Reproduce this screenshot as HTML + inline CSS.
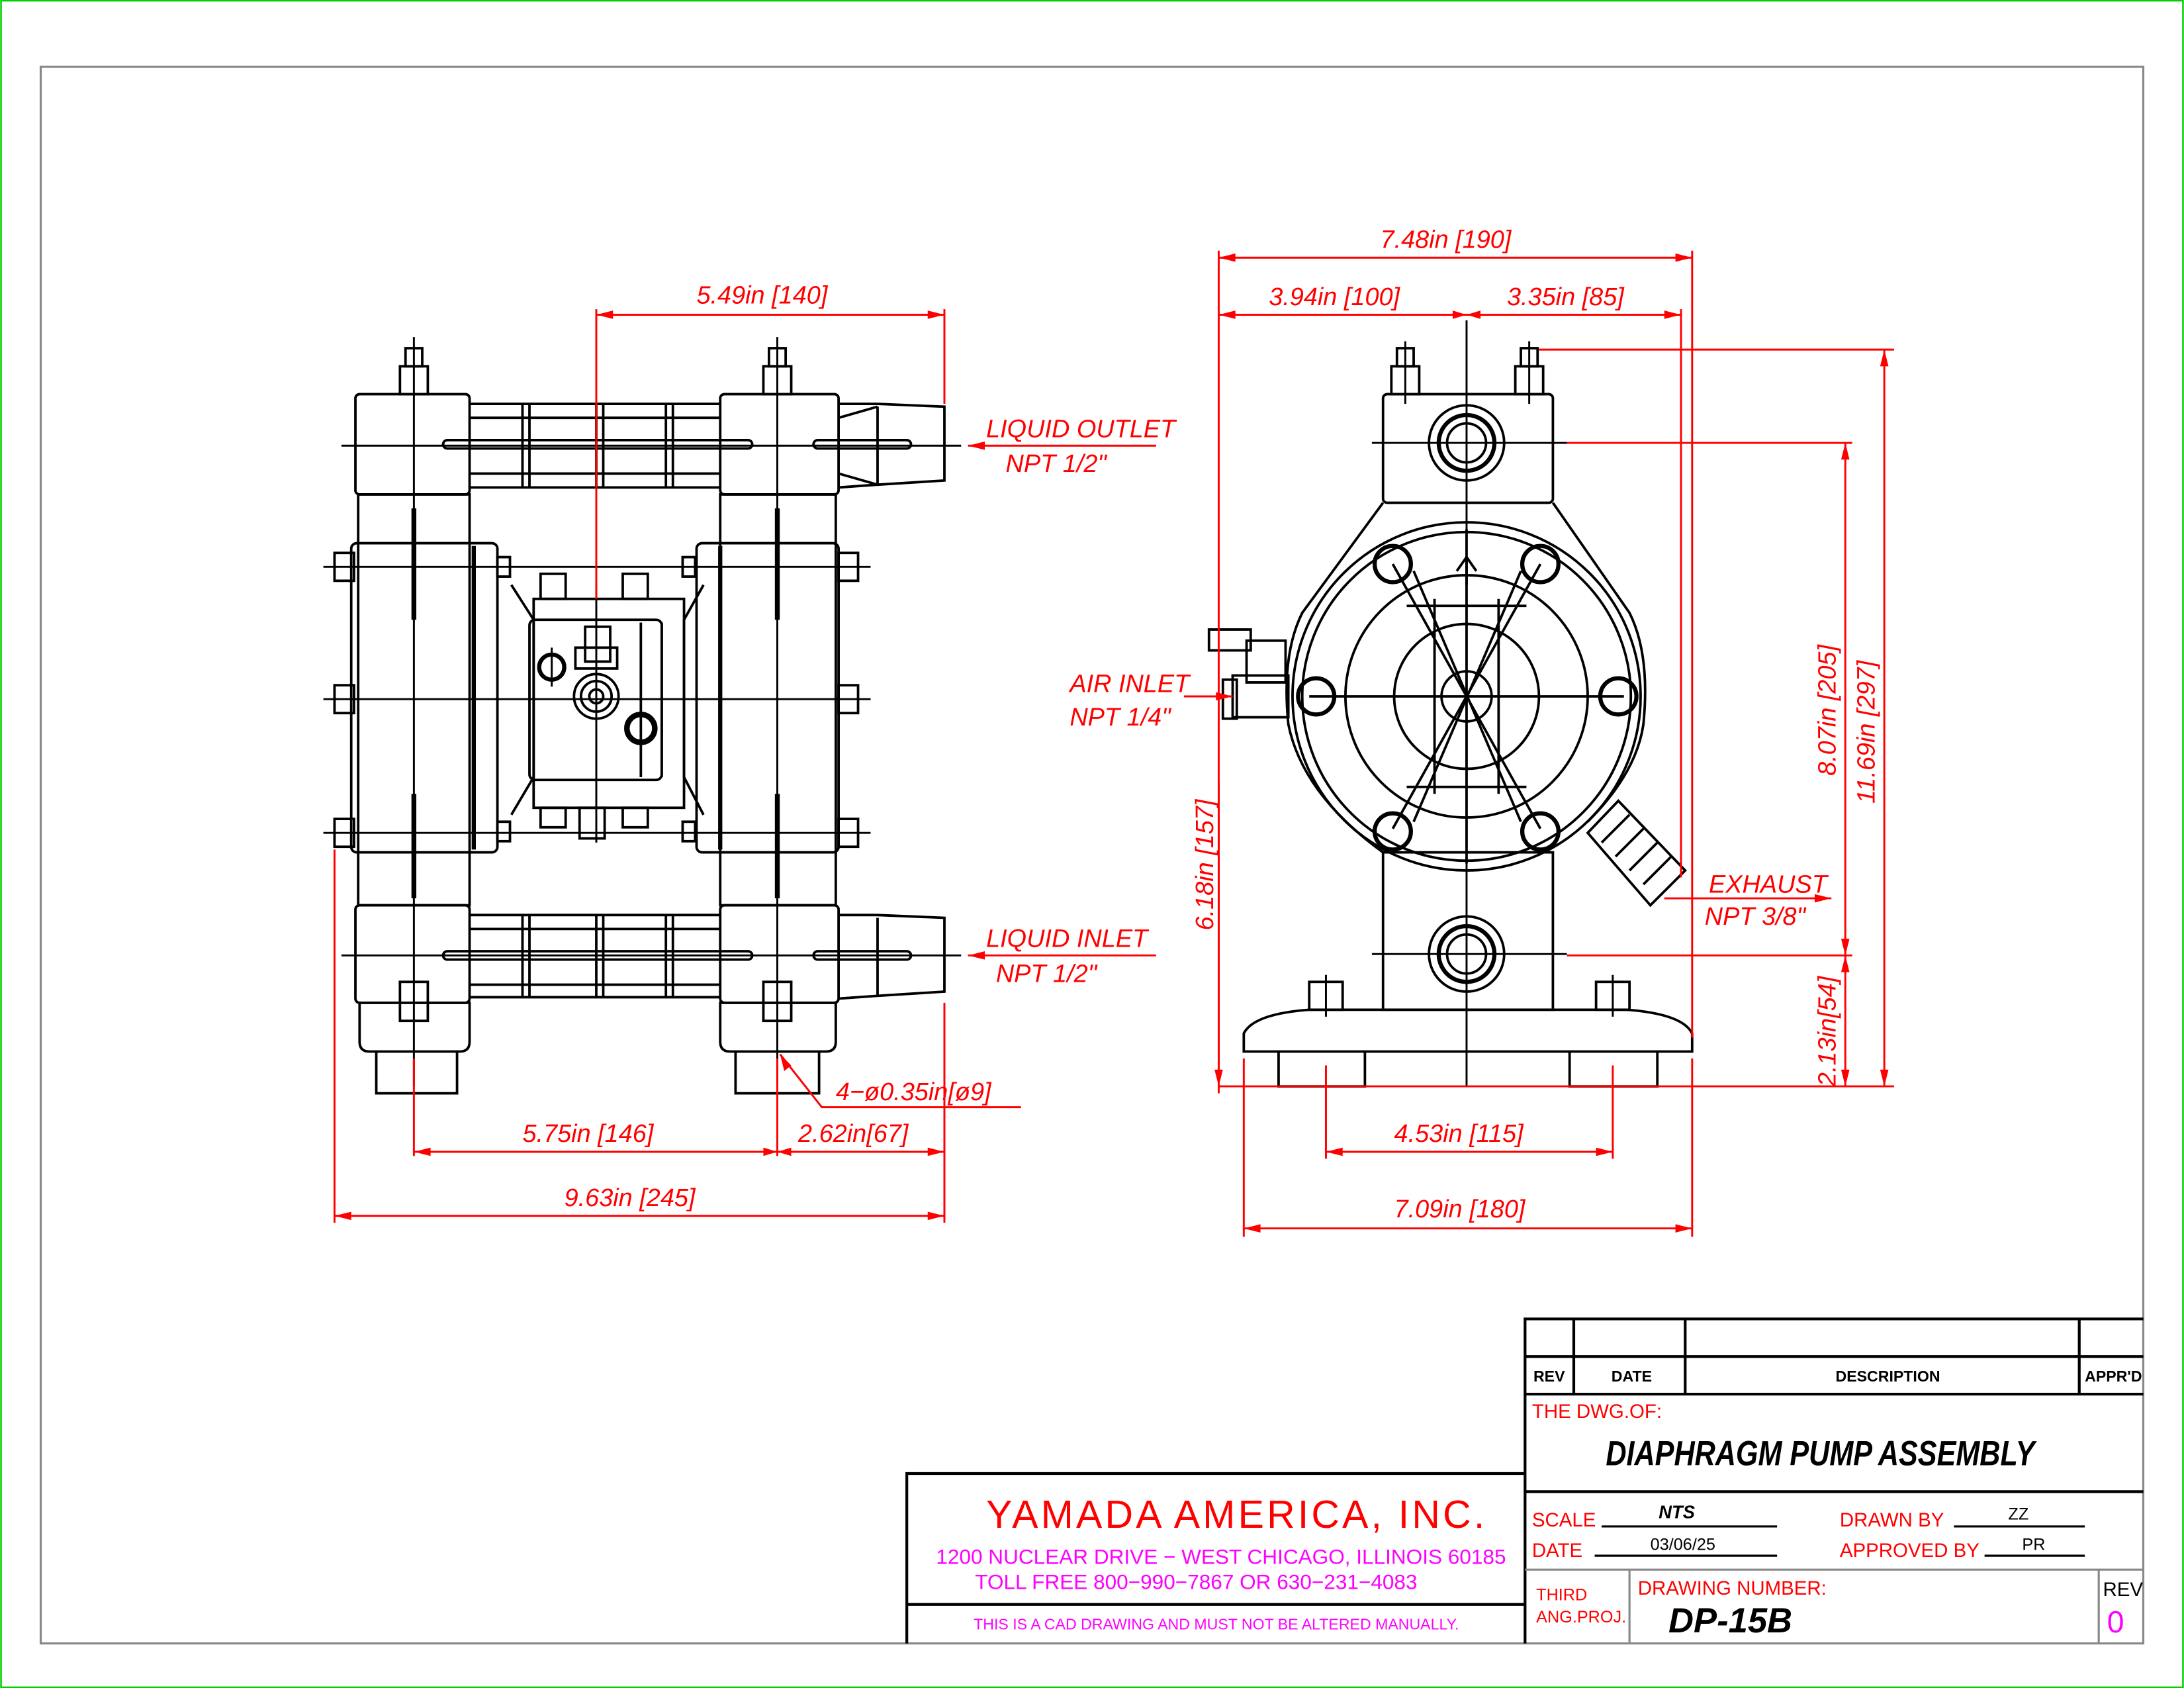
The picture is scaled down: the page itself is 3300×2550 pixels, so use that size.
<!DOCTYPE html>
<html><head><meta charset="utf-8"><style>
html,body{margin:0;padding:0;background:#fff}
svg{display:block}
text{font-family:"Liberation Sans",sans-serif}
.r{fill:#f00}
.it{font-style:italic}
</style></head><body>
<svg width="3300" height="2550" viewBox="0 0 1568 1212" xmlns="http://www.w3.org/2000/svg">
<rect x="0.5" y="0.5" width="1567" height="1211" fill="#fff" stroke="#00d000" stroke-width="1.2"/>
<rect x="29" y="48" width="1510" height="1132" fill="none" stroke="#888" stroke-width="1.5"/>

<!-- ============ LEFT VIEW ============ -->
<g fill="none" stroke="#000" stroke-width="1.8">
<rect x="255" y="283" width="82" height="72" rx="3"/>
<rect x="517" y="283" width="85" height="72" rx="3"/>
<path d="M337 290 H517 M337 300 H517 M337 340 H517 M337 350 H517"/>
<path d="M602 290 L630 290 L678 292 V345 L630 348 L602 350"/>
<path d="M602 300 L630 292 M602 340 L630 348 M630 292 V348"/>
<rect x="318" y="316" width="222" height="6" rx="3"/>
<rect x="584" y="316" width="70" height="6" rx="3"/>
<path d="M375 290 V350 M380 290 V350 M428 290 V350 M433 290 V350 M478 290 V350 M483 290 V350"/>
<rect x="255" y="650" width="82" height="70" rx="3"/>
<rect x="517" y="650" width="85" height="70" rx="3"/>
<path d="M337 657 H517 M337 667 H517 M337 707 H517 M337 716 H517"/>
<path d="M602 657 L630 657 L678 659 V712 L630 715 L602 717"/>
<path d="M630 659 V715"/>
<rect x="318" y="683" width="222" height="6" rx="3"/>
<rect x="584" y="683" width="70" height="6" rx="3"/>
<path d="M375 657 V716 M380 657 V716 M428 657 V716 M433 657 V716 M478 657 V716 M483 657 V716"/>
<rect x="257" y="355" width="80" height="295"/>
<rect x="517" y="355" width="83" height="295"/>
<rect x="252" y="390" width="105" height="222" rx="4"/>
<rect x="500" y="390" width="102" height="222" rx="4"/>
<path d="M340 392 V610 M517 392 V610" stroke-width="3"/>
<path d="M297 365 V445 M558 365 V445 M297 570 V645 M558 570 V645" stroke-width="3.5"/>
<g>
<rect x="240" y="397" width="14" height="20"/><rect x="240" y="492" width="14" height="20"/><rect x="240" y="588" width="14" height="20"/>
<rect x="602" y="397" width="14" height="20"/><rect x="602" y="492" width="14" height="20"/><rect x="602" y="588" width="14" height="20"/>
<rect x="357" y="400" width="9" height="14"/><rect x="357" y="590" width="9" height="14"/>
<rect x="490" y="400" width="9" height="14"/><rect x="490" y="590" width="9" height="14"/>
</g>
<rect x="383" y="430" width="108" height="150"/>
<rect x="380" y="445" width="95" height="115" rx="4"/>
<path d="M460 447 V558 M475 447 V558"/>
<path d="M367 420 L383 445 V558 L367 585 M505 420 L491 445 V558 L505 585"/>
<rect x="388" y="412" width="18" height="18"/><rect x="447" y="412" width="18" height="18"/>
<rect x="388" y="580" width="18" height="14"/><rect x="447" y="580" width="18" height="14"/>
<rect x="416" y="580" width="18" height="22"/>
<rect x="420" y="450" width="18" height="25"/><rect x="413" y="465" width="30" height="15"/>
<circle cx="428" cy="500" r="16"/><circle cx="428" cy="500" r="11"/><circle cx="428" cy="500" r="5"/>
<circle cx="396" cy="479" r="9" stroke-width="3"/><circle cx="460" cy="523" r="10" stroke-width="4"/>
<rect x="287" y="263" width="20" height="20"/><rect x="291" y="250" width="12" height="13"/>
<rect x="548" y="263" width="20" height="20"/><rect x="552" y="250" width="12" height="13"/>
<path d="M258 720 H337 V748 Q337 755 330 755 H265 Q258 755 258 748 Z"/>
<path d="M517 720 H600 V748 Q600 755 593 755 H524 Q517 755 517 748 Z"/>
<path d="M270 755 V785 H328 V755 M528 755 V785 H588 V755"/>
<rect x="287" y="705" width="20" height="28"/><rect x="548" y="705" width="20" height="28"/>
<path d="M297 242 V780 M558 242 V780 M245 320 H690 M245 686 H690 M232 407 H625 M232 502 H625 M232 598 H625 M428 420 V605 M396 465 V493 M460 505 V545 M352 502 H480" stroke-width="1.4"/>
</g>

<!-- ============ RIGHT VIEW ============ -->
<g fill="none" stroke="#000" stroke-width="1.8">
<rect x="993" y="283" width="122" height="78" rx="3"/>
<rect x="993" y="612" width="122" height="113"/>
<circle cx="1053" cy="318" r="27"/><circle cx="1053" cy="318" r="20" stroke-width="3"/><circle cx="1053" cy="318" r="14"/>
<circle cx="1053" cy="685" r="27"/><circle cx="1053" cy="685" r="20" stroke-width="3"/><circle cx="1053" cy="685" r="14"/>
<path d="M993 361 L935 440 Q920 470 925 520 Q935 570 993 612 M1115 361 L1170 440 Q1185 470 1180 520 Q1175 555 1140 590"/>
<circle cx="1053" cy="500" r="125"/>
<circle cx="1053" cy="500" r="118"/>
<circle cx="1053" cy="500" r="87"/>
<circle cx="1053" cy="500" r="52"/>
<circle cx="1053" cy="500" r="18"/>
<path d="M1000 405 L1106 595 M1106 405 L1000 595 M1015 410 L1092 590 M1092 410 L1015 590 M940 500 H1166 M1053 380 V620"/>
<path d="M1030 430 V570 M1076 430 V570 M1010 435 H1096 M1010 565 H1096"/>
<g stroke-width="3">
<circle cx="1000" cy="405" r="13"/><circle cx="1106" cy="405" r="13"/>
<circle cx="945" cy="500" r="13"/><circle cx="1162" cy="500" r="13"/>
<circle cx="1000" cy="597" r="13"/><circle cx="1106" cy="597" r="13"/>
</g>
<path d="M1053 400 V420 M1046 410 L1053 400 L1060 410"/>
<rect x="895" y="460" width="28" height="30"/><rect x="868" y="452" width="30" height="15"/>
<rect x="885" y="485" width="40" height="30"/><rect x="878" y="488" width="10" height="28"/>
<path d="M1140 598 L1162 575 L1210 625 L1185 650 Z"/>
<path d="M1150 605 L1170 585 M1160 615 L1180 595 M1170 625 L1190 605 M1180 635 L1200 615"/>
<rect x="999" y="263" width="20" height="20"/><rect x="1003" y="250" width="12" height="13"/>
<rect x="1088" y="263" width="20" height="20"/><rect x="1092" y="250" width="12" height="13"/>
<path d="M893 755 V742 Q900 728 940 725 H1168 Q1208 728 1215 742 V755 Z"/>
<path d="M918 755 V780 H980 V755 M1127 755 V780 H1190 V755"/>
<rect x="940" y="705" width="24" height="20"/><rect x="1146" y="705" width="24" height="20"/>
<path d="M1053 230 V780 M985 318 H1125 M985 685 H1125 M1009 245 V290 M1098 245 V290 M952 700 V730 M1158 700 V730" stroke-width="1.4"/>
</g>

<!-- ============ DIMENSIONS (red) ============ -->
<g stroke="#f00" stroke-width="1.4" fill="none">
<path d="M428 222 V430 M678 222 V290 M428 226 H678"/>
<path d="M240 610 V878 M678 720 V878 M297 760 V830 M558 760 V830 M240 873 H678 M297 827 H678"/>
<path d="M560 757 L590 795 H733"/>
<path d="M695 320 H830 M695 686 H830"/>
<path d="M875 180 V785 M1215 180 V745 M875 185 H1215 M1207 222 V630 M875 226 H1207"/>
<path d="M1105 251 H1360 M1125 318 H1330 M1125 686 H1330 M1215 780 H1360 M875 780 H1330"/>
<path d="M1353 251 V780 M1325 318 V686 M1325 686 V780"/>
<path d="M875 560 V780"/>
<path d="M893 760 V888 M1215 760 V888 M893 882 H1215 M952 765 V832 M1158 765 V832 M952 827 H1158"/>
<path d="M850 500 H885 M1195 645 H1315"/>
</g>
<g fill="#f00">
<path d="M428 226 l12 -3 v6z M678 226 l-12 -3 v6z"/>
<path d="M240 873 l12 -3 v6z M678 873 l-12 -3 v6z M297 827 l12 -3 v6z M678 827 l-12 -3 v6z M558 827 l-10 -3 v6z M558 827 l10 -3 v6z"/>
<path d="M560 757 l3 12 l5 -4z"/>
<path d="M695 320 l12 -3 v6z M695 686 l12 -3 v6z"/>
<path d="M875 185 l12 -3 v6z M1215 185 l-12 -3 v6z M875 226 l12 -3 v6z M1207 226 l-12 -3 v6z M1053 226 l-10 -3 v6z M1053 226 l10 -3 v6z"/>
<path d="M1353 251 l-3 12 h6z M1353 780 l-3 -12 h6z M1325 318 l-3 12 h6z M1325 686 l-3 -12 h6z M1325 686 l-3 12 h6z M1325 780 l-3 -12 h6z M875 780 l-3 -12 h6z"/>
<path d="M893 882 l12 -3 v6z M1215 882 l-12 -3 v6z M952 827 l12 -3 v6z M1158 827 l-12 -3 v6z"/>
<path d="M885 500 l-12 -3 v6z M1315 645 l-12 -3 v6z"/>
</g>
<g class="r it" font-size="18">
<text x="500" y="218">5.49in [140]</text>
<text x="708" y="314">LIQUID OUTLET</text>
<text x="722" y="339">NPT 1/2"</text>
<text x="708" y="680">LIQUID INLET</text>
<text x="715" y="705">NPT 1/2"</text>
<text x="600" y="790">4−ø0.35in[ø9]</text>
<text x="375" y="820">5.75in [146]</text>
<text x="573" y="820">2.62in[67]</text>
<text x="405" y="866">9.63in [245]</text>
<text x="991" y="178">7.48in [190]</text>
<text x="911" y="219">3.94in [100]</text>
<text x="1082" y="219">3.35in [85]</text>
<text x="768" y="497">AIR INLET</text>
<text x="768" y="521">NPT 1/4"</text>
<text x="1227" y="641">EXHAUST</text>
<text x="1224" y="664">NPT 3/8"</text>
<text x="1001" y="820">4.53in [115]</text>
<text x="1001" y="874">7.09in [180]</text>
<text transform="translate(871,668) rotate(-90)">6.18in [157]</text>
<text transform="translate(1318,557) rotate(-90)">8.07in [205]</text>
<text transform="translate(1346,577) rotate(-90)">11.69in [297]</text>
<text transform="translate(1318,780) rotate(-90)">2.13in[54]</text>
</g>

<!-- ============ TITLE BLOCK ============ -->
<g fill="none" stroke="#000" stroke-width="2">
<path d="M1095 1180 V947 H1539"/>
<path d="M1095 974 H1539 M1095 1001 H1539 M1095 1071 H1539"/>
<path d="M1130 947 V1001 M1210 947 V1001 M1493 947 V1001"/>
<path d="M651 1180 V1058 H1095 M651 1152 H1095"/>
<path d="M1150 1096 H1276 M1145 1117 H1276 M1403 1096 H1497 M1425 1117 H1497" stroke-width="1.5"/>
</g>
<g fill="none" stroke="#888" stroke-width="1.5">
<path d="M1095 1127 H1539 M1170 1127 V1180 M1507 1127 V1180"/>
</g>
<g font-weight="bold" font-size="11">
<text x="1101" y="992">REV</text>
<text x="1157" y="992">DATE</text>
<text x="1318" y="992">DESCRIPTION</text>
<text x="1497" y="992">APPR'D</text>
</g>
<text x="1100" y="1018" class="r" font-size="14">THE DWG.OF:</text>
<text x="1153" y="1052" font-size="25" font-weight="bold" font-style="italic" textLength="308" lengthAdjust="spacingAndGlyphs">DIAPHRAGM PUMP ASSEMBLY</text>
<g class="r" font-size="14">
<text x="1100" y="1096">SCALE</text>
<text x="1100" y="1118">DATE</text>
<text x="1321" y="1096">DRAWN BY</text>
<text x="1321" y="1118">APPROVED BY</text>
<text x="1176" y="1145">DRAWING NUMBER:</text>
<text x="1103" y="1149" font-size="12">THIRD</text>
<text x="1103" y="1165" font-size="12">ANG.PROJ.</text>
</g>
<text x="1191" y="1090" font-size="13" font-weight="bold" font-style="italic">NTS</text>
<text x="1185" y="1113" font-size="12">03/06/25</text>
<text x="1442" y="1091" font-size="12">ZZ</text>
<text x="1452" y="1113" font-size="12">PR</text>
<text x="1198" y="1172" font-size="25" font-weight="bold" font-style="italic">DP-15B</text>
<text x="1510" y="1146" font-size="14">REV</text>
<text x="1513" y="1172" font-size="22" fill="#f0f">0</text>
<text x="708" y="1097" class="r" font-size="28" letter-spacing="2">YAMADA  AMERICA,  INC.</text>
<g fill="#f0f" font-size="15">
<text x="672" y="1123">1200 NUCLEAR DRIVE − WEST CHICAGO, ILLINOIS 60185</text>
<text x="700" y="1141">TOLL FREE 800−990−7867 OR 630−231−4083</text>
<text x="699" y="1170" font-size="11">THIS IS A CAD DRAWING AND MUST NOT BE ALTERED MANUALLY.</text>
</g>
</svg>
</body></html>
